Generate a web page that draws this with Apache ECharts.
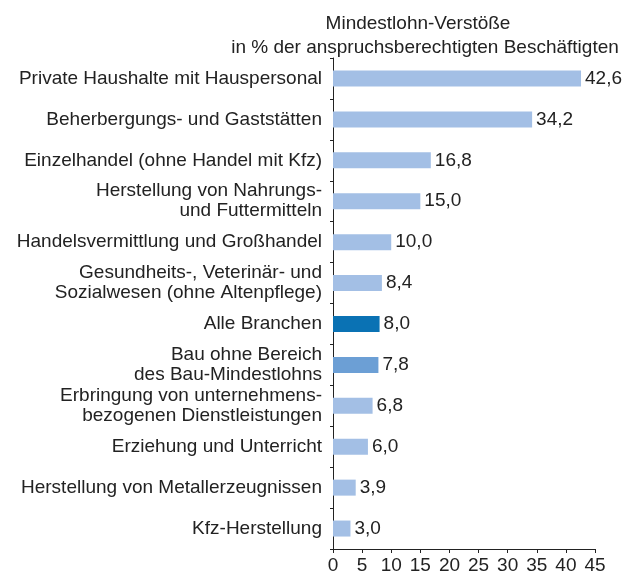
<!DOCTYPE html>
<html>
<head>
<meta charset="utf-8">
<script src="https://cdn.jsdelivr.net/npm/echarts@6/dist/echarts.min.js"></script>
<style>
  html, body { margin: 0; padding: 0; background: #fff; }
  #chart { width: 625px; height: 578px; }
</style>
</head>
<body>
<div id="chart"></div>
<script>
var categories = [
    'Private Haushalte mit Hauspersonal',
    'Beherbergungs- und Gaststätten',
    'Einzelhandel (ohne Handel mit Kfz)',
    'Herstellung von Nahrungs-\nund Futtermitteln',
    'Handelsvermittlung und Großhandel',
    'Gesundheits-, Veterinär- und\nSozialwesen (ohne Altenpflege)',
    'Alle Branchen',
    'Bau ohne Bereich\ndes Bau-Mindestlohns',
    'Erbringung von unternehmens-\nbezogenen Dienstleistungen',
    'Erziehung und Unterricht',
    'Herstellung von Metallerzeugnissen',
    'Kfz-Herstellung'
];
var values = [42.6, 34.2, 16.8, 15.0, 10.0, 8.4, 8.0, 7.8, 6.8, 6.0, 3.9, 3.0];
var xTicks = [0, 5, 10, 15, 20, 25, 30, 35, 40, 45];

var lightBlue = '#a3bfe5';
var specialColors = { 'Alle Branchen': '#0a72b4', 'Bau ohne Bereich\ndes Bau-Mindestlohns': '#6c9fd5' };

var myChart = echarts.init(document.getElementById('chart'));

// category axis reversed so the first entry sits on top
var barData = values.map(function (v, i) {
    return {
        value: v,
        itemStyle: { color: specialColors[categories[i]] || lightBlue }
    };
});

var titleStyle = { fontSize: 19, fontWeight: 'normal', color: '#222' };

option = {
    animation: false,
    textStyle: { fontFamily: 'Liberation Sans, Arial, sans-serif' },
    title: [
        { text: 'Mindestlohn-Verstöße', left: 413, top: 9, textAlign: 'center', textStyle: titleStyle },
        { text: 'in % der anspruchsberechtigten Beschäftigten', left: 420, top: 33, textAlign: 'center', textStyle: titleStyle }
    ],
    grid: { left: 333, right: 30, top: 58, bottom: 29, containLabel: false },
    xAxis: {
        type: 'value',
        min: xTicks[0],
        max: xTicks[xTicks.length - 1],
        interval: 5,
        splitLine: { show: false },
        axisLine: { show: true, lineStyle: { color: '#222' } },
        axisTick: { show: true, length: 4, lineStyle: { color: '#222' } },
        axisLabel: { fontSize: 19, color: '#222', margin: 7 }
    },
    yAxis: {
        type: 'category',
        data: categories,
        inverse: true,
        axisLine: { show: true, lineStyle: { color: '#222' } },
        axisTick: { show: true, length: 3, lineStyle: { color: '#222' } },
        axisLabel: { fontSize: 19, color: '#222', margin: 11, lineHeight: 20, align: 'right' }
    },
    series: [{
        type: 'bar',
        data: barData,
        barWidth: 16,
        label: {
            show: true,
            position: 'right',
            distance: 4,
            fontSize: 19,
            color: '#222',
            formatter: function (p) { return p.value.toFixed(1).replace('.', ','); }
        }
    }]
};

myChart.setOption(option, true);
</script>
</body>
</html>
